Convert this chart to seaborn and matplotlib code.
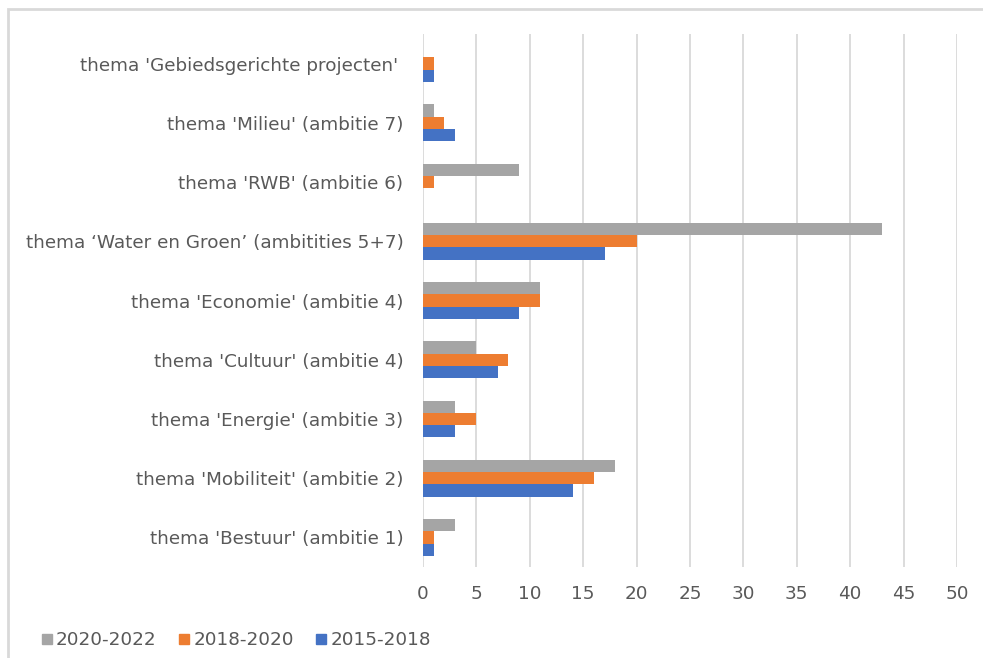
import pandas as pd
import matplotlib.pyplot as plt
import seaborn as sns
from matplotlib.patches import Rectangle

# categories, top to bottom
categories = [
    "thema 'Gebiedsgerichte projecten' ",
    "thema 'Milieu' (ambitie 7)",
    "thema 'RWB' (ambitie 6)",
    "thema \u2018Water en Groen\u2019 (ambitities 5+7)",
    "thema 'Economie' (ambitie 4)",
    "thema 'Cultuur' (ambitie 4)",
    "thema 'Energie' (ambitie 3)",
    "thema 'Mobiliteit' (ambitie 2)",
    "thema 'Bestuur' (ambitie 1)",
]
periods = ["2020-2022", "2018-2020", "2015-2018"]
v_2020_2022 = [0, 1, 9, 43, 11, 5, 3, 18, 3]
v_2018_2020 = [1, 2, 1, 20, 11, 8, 5, 16, 1]
v_2015_2018 = [1, 3, 0, 17, 9, 7, 3, 14, 1]
colors = ["#A5A5A5", "#ED7D31", "#4472C4"]

df = pd.DataFrame({
    "thema": categories * 3,
    "periode": [periods[0]] * 9 + [periods[1]] * 9 + [periods[2]] * 9,
    "aantal": v_2020_2022 + v_2018_2020 + v_2015_2018,
})

sns.set_style("white")
plt.rcParams['font.family'] = ['DejaVu Sans']
text_col = "#595959"
fs = 13.2

fig = plt.figure(figsize=(9.83, 6.58), dpi=100)
ax = fig.add_axes([423 / 983, 1 - 567 / 658, (957 - 423) / 983, (567 - 34) / 658])

sns.barplot(
    data=df, y="thema", x="aantal", hue="periode",
    order=categories, hue_order=periods, palette=colors,
    width=0.62, orient="h", ax=ax, saturation=1, legend=False,
    linewidth=0, edgecolor="none",
)

ax.set_xlim(0, 50)
ax.set_xticks(range(0, 51, 5))
ax.xaxis.grid(True, color="#D9D9D9", linewidth=1.3)
ax.set_axisbelow(True)
for s in ax.spines.values():
    s.set_visible(False)
ax.set_xlabel("")
ax.set_ylabel("")
ax.tick_params(axis="both", length=0, labelsize=fs, colors=text_col)
ax.tick_params(axis="x", pad=13)
ax.tick_params(axis="y", pad=14)

# legend below the chart
handles = [plt.Line2D([], [], marker="s", linestyle="", color=c, markersize=7) for c in colors]
fig.legend(handles, periods, loc="center left", bbox_to_anchor=(23 / 983, 1 - 640 / 658),
           ncol=3, frameon=False, fontsize=fs, labelcolor=text_col,
           handletextpad=0.1, columnspacing=1.1, handlelength=0.8)

# outer chart frame (cropped screenshot)
fig.patches.append(Rectangle((8 / 983, -0.1), 1.2, 1 - 9 / 658 + 0.1, transform=fig.transFigure,
                             fill=False, edgecolor="#D9D9D9", linewidth=2))

plt.savefig("out.png", dpi=100)
plt.close()
